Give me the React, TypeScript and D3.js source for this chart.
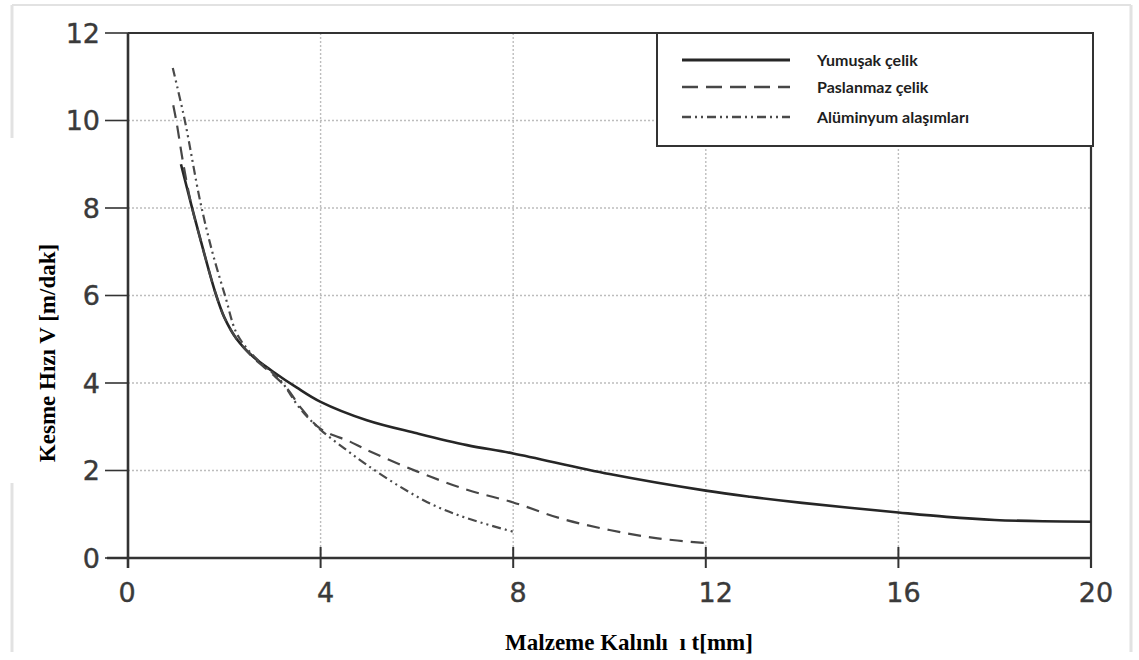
import React from "react";
import * as d3 from "d3";

const xTicks = [0, 4, 8, 12, 16, 20];
const yTicks = [0, 2, 4, 6, 8, 10, 12];

const seriesNames = ["Yumuşak çelik", "Paslanmaz çelik", "Alüminyum alaşımları"];

const mildX = [1.1, 1.32, 1.5, 1.81, 2.0, 2.26, 2.6, 3.0, 3.5, 4, 4.96, 6, 7.04, 8, 10, 12, 12.92, 14, 16, 17, 18, 19, 20];
const mildY = [9.0, 8.05, 7.3, 6.08, 5.5, 5.0, 4.6, 4.27, 3.9, 3.57, 3.15, 2.85, 2.58, 2.39, 1.92, 1.54, 1.4, 1.26, 1.04, 0.94, 0.87, 0.84, 0.83];

const stainX = [0.94, 1.01, 1.15, 1.32, 1.5, 1.81, 2.0, 2.26, 2.6, 3.0, 3.3, 3.6, 4, 4.61, 4.96, 6, 7.04, 8, 9, 10, 11, 12];
const stainY = [10.35, 9.95, 9.0, 8.05, 7.3, 6.08, 5.5, 5.0, 4.58, 4.2, 3.88, 3.42, 2.95, 2.66, 2.47, 1.98, 1.56, 1.27, 0.9, 0.64, 0.45, 0.34];

const aluX = [0.93, 1.18, 1.5, 1.75, 2.02, 2.25, 2.5, 2.8, 3.16, 3.57, 4, 4.5, 4.96, 5.65, 6.34, 7.04, 8];
const aluY = [11.2, 10.0, 8.15, 7.0, 5.98, 5.15, 4.75, 4.42, 4.07, 3.42, 2.93, 2.5, 2.13, 1.63, 1.21, 0.91, 0.6];

const styles = [
  { stroke: "#262626", width: 2.6, dash: "" },
  { stroke: "#474747", width: 2.2, dash: "13,8" },
  { stroke: "#4a4a4a", width: 2.2, dash: "9,4,2,4,2,4" },
];

export default function App() {
  const W = 1139;
  const H = 660;
  const x = d3.scaleLinear().domain([0, 20]).range([128, 1091]);
  const y = d3.scaleLinear().domain([0, 12]).range([558, 33]);

  const line = d3
    .line<[number, number]>()
    .x((d) => x(d[0]))
    .y((d) => y(d[1]))
    .curve(d3.curveCatmullRom.alpha(0.5));

  const series = [
    mildX.map((v, i) => [v, mildY[i]] as [number, number]),
    stainX.map((v, i) => [v, stainY[i]] as [number, number]),
    aluX.map((v, i) => [v, aluY[i]] as [number, number]),
  ];

  const tickFont = "'DejaVu Sans', 'Liberation Sans', sans-serif";
  const titleFont = "'Liberation Serif', 'Times New Roman', serif";

  const legX = 657;
  const legY = 33;
  const legRows = [60, 87, 117];

  return (
    <svg
      width={W}
      height={H}
      style={{ position: "fixed", left: 0, top: 0, background: "#fff" }}
    >
      <rect x={0} y={0} width={W} height={H} fill="#fff" />
      {/* faint outer frame */}
      <line x1={12} x2={1131} y1={5} y2={5} stroke="#e2e2e2" strokeWidth={2} />
      <line x1={12} x2={12} y1={5} y2={138} stroke="#e2e2e2" strokeWidth={3} />
      <line x1={12} x2={12} y1={483} y2={652} stroke="#e2e2e2" strokeWidth={3} />
      <line x1={1131} x2={1131} y1={5} y2={652} stroke="#e2e2e2" strokeWidth={3} />

      {/* grid */}
      {xTicks
        .filter((t) => t > 0 && t < 20)
        .map((t) => (
          <line
            key={"gx" + t}
            x1={x(t)}
            x2={x(t)}
            y1={y(12)}
            y2={y(0)}
            stroke="#bdbdbd"
            strokeWidth={1.4}
            strokeDasharray="2,2"
          />
        ))}
      {yTicks
        .filter((t) => t > 0 && t < 12)
        .map((t) => (
          <line
            key={"gy" + t}
            x1={x(0)}
            x2={x(20)}
            y1={y(t)}
            y2={y(t)}
            stroke="#bdbdbd"
            strokeWidth={1.4}
            strokeDasharray="2,2"
          />
        ))}

      {/* frame */}
      <line x1={x(0)} x2={x(20)} y1={y(12)} y2={y(12)} stroke="#333" strokeWidth={2.2} />
      <line x1={x(20)} x2={x(20)} y1={y(12)} y2={568} stroke="#333" strokeWidth={2.2} />
      <line x1={107} x2={x(20)} y1={y(0)} y2={y(0)} stroke="#333" strokeWidth={2.6} />
      <line x1={x(0)} x2={x(0)} y1={y(12)} y2={568} stroke="#333" strokeWidth={2.6} />

      {/* ticks */}
      {yTicks.map((t) => (
        <g key={"yt" + t}>
          <line x1={105} x2={x(0)} y1={y(t)} y2={y(t)} stroke="#333" strokeWidth={1.6} />
          <text
            x={100}
            y={y(t)}
            dy="0.36em"
            textAnchor="end"
            fontFamily={tickFont}
            fontSize={27}
            fill="#3a3a3a"
            stroke="#3a3a3a"
            strokeWidth={0.4}
          >
            {t}
          </text>
        </g>
      ))}
      {xTicks.map((t) => (
        <g key={"xt" + t}>
          <line x1={x(t)} x2={x(t)} y1={t === 0 ? y(0) : 547} y2={568} stroke="#333" strokeWidth={2} />
          <text
            x={x(t) + (t === 0 ? -1 : t === 12 ? 10 : 5)}
            y={602}
            textAnchor="middle"
            fontFamily={tickFont}
            fontSize={27}
            fill="#3a3a3a"
            stroke="#3a3a3a"
            strokeWidth={0.4}
          >
            {t}
          </text>
        </g>
      ))}

      {/* curves */}
      {series.map((s, i) => (
        <path
          key={"s" + i}
          d={line(s) || ""}
          fill="none"
          stroke={styles[i].stroke}
          strokeWidth={styles[i].width}
          strokeDasharray={styles[i].dash || undefined}
        />
      ))}

      {/* legend */}
      <rect
        x={legX}
        y={legY}
        width={1093 - legX}
        height={146 - legY}
        fill="#fff"
        stroke="#333"
        strokeWidth={2}
      />
      {seriesNames.map((name, i) => (
        <g key={"lg" + i}>
          <line
            x1={682}
            x2={790}
            y1={legRows[i]}
            y2={legRows[i]}
            stroke={styles[i].stroke}
            strokeWidth={styles[i].width + 0.4}
            strokeDasharray={i === 1 ? "16,8" : styles[i].dash || undefined}
          />
          <text
            x={817}
            y={legRows[i]}
            dy="0.35em"
            fontFamily="Lato, 'Open Sans', sans-serif"
            fontWeight={700}
            fontSize={16}
            fill="#1e1e1e"
          >
            {name}
          </text>
        </g>
      ))}

      {/* axis titles */}
      <text
        x={629}
        y={650}
        textAnchor="middle"
        fontFamily={titleFont}
        fontWeight={700}
        fontSize={23}
        fill="#000"
        style={{ whiteSpace: "pre" }}
      >
        {"Malzeme Kalınlı  ı t[mm]"}
      </text>
      <text
        transform={`translate(47,353) rotate(-90)`}
        textAnchor="middle"
        dy="0.35em"
        fontFamily={titleFont}
        fontWeight={700}
        fontSize={23}
        fill="#000"
      >
        Kesme Hızı V [m/dak]
      </text>
    </svg>
  );
}
